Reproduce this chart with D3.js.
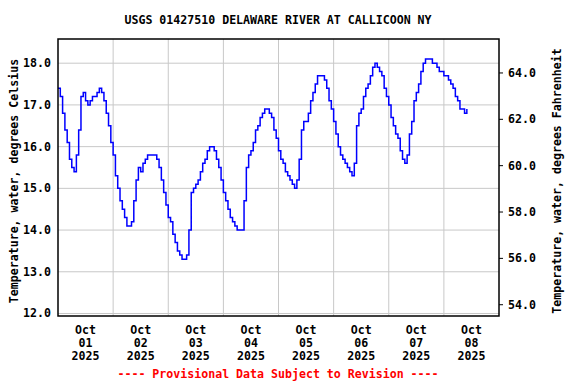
<!DOCTYPE html>
<html>
<head>
<meta charset="utf-8">
<script src="https://cdn.jsdelivr.net/npm/d3@7"></script>
<style>
  body { margin: 0; background: #fff; }
  text { font-family: "DejaVu Sans Mono", monospace; font-weight: bold; font-size: 11.6px; fill: #000; }
</style>
</head>
<body>
<svg width="576" height="384"></svg>
<script>
// hourly water temperature (deg C), starting 2025-10-01 00:00
var startTime = '2025-10-01T00:00:00';
var endTime = '2025-10-09T00:00:00';
var tempC = [
    17.4, 17.2, 16.8, 16.4, 16.1, 15.7, 15.5, 15.4, 15.8, 16.4, 17.2, 17.3,
    17.1, 17.0, 17.1, 17.2, 17.2, 17.3, 17.4, 17.3, 17.1, 16.8, 16.5, 16.1,
    15.8, 15.3, 15.0, 14.7, 14.5, 14.3, 14.1, 14.1, 14.2, 14.7, 15.2, 15.5,
    15.4, 15.6, 15.7, 15.8, 15.8, 15.8, 15.8, 15.7, 15.5, 15.2, 14.9, 14.6,
    14.3, 14.2, 13.9, 13.7, 13.5, 13.4, 13.3, 13.3, 13.4, 14.0, 14.9, 15.0,
    15.1, 15.2, 15.4, 15.6, 15.7, 15.9, 16.0, 16.0, 15.9, 15.7, 15.5, 15.2,
    14.9, 14.7, 14.5, 14.3, 14.2, 14.1, 14.0, 14.0, 14.0, 14.7, 15.5, 15.8,
    15.9, 16.1, 16.4, 16.5, 16.7, 16.8, 16.9, 16.9, 16.8, 16.7, 16.4, 16.2,
    15.9, 15.7, 15.6, 15.4, 15.3, 15.2, 15.1, 15.0, 15.2, 15.7, 16.4, 16.6,
    16.6, 16.8, 17.1, 17.3, 17.5, 17.7, 17.7, 17.7, 17.6, 17.4, 17.1, 16.9,
    16.6, 16.3, 16.0, 15.8, 15.7, 15.6, 15.5, 15.4, 15.3, 15.6, 16.5, 16.8,
    16.9, 17.2, 17.4, 17.5, 17.7, 17.9, 18.0, 17.9, 17.8, 17.7, 17.4, 17.2,
    17.0, 16.7, 16.5, 16.3, 16.2, 15.9, 15.7, 15.6, 15.8, 16.3, 16.6, 17.1,
    17.3, 17.5, 17.8, 18.0, 18.1, 18.1, 18.1, 18.0, 18.0, 17.9, 17.8, 17.8,
    17.7, 17.7, 17.6, 17.5, 17.4, 17.2, 17.1, 16.9, 16.9, 16.8, 16.9
];
var celsiusTicks = [12, 13, 14, 15, 16, 17, 18];
var fahrenheitTicks = [54, 56, 58, 60, 62, 64];
var dayLabels = ['01', '02', '03', '04', '05', '06', '07', '08'];

var svg = d3.select('svg');
var plot = { l: 58, r: 499, t: 39, b: 316 };

var t0 = new Date(startTime);
var data = tempC.map(function (v, i) {
    return { time: d3.timeHour.offset(t0, i), temp: v };
});

var xScale = d3.scaleTime()
    .domain([t0, new Date(endTime)])
    .range([plot.l, plot.r]);

var yScale = d3.scaleLinear()
    .domain([11.94, 18.58])
    .range([plot.b, plot.t]);

// Fahrenheit axis shares the same pixel mapping
var fScale = d3.scaleLinear()
    .domain(yScale.domain().map(function (c) { return c * 1.8 + 32; }))
    .range([plot.b, plot.t]);

// grid lines
var midnights = d3.timeDay.range(d3.timeDay.offset(t0, 1), new Date(endTime));
svg.append('g').selectAll('line.vgrid')
    .data(midnights)
    .enter().append('line')
    .attr('x1', d => xScale(d)).attr('x2', d => xScale(d))
    .attr('y1', plot.t).attr('y2', plot.b)
    .attr('stroke', '#c8c8c8').attr('stroke-width', 1);

svg.append('g').selectAll('line.hgrid')
    .data(celsiusTicks)
    .enter().append('line')
    .attr('x1', plot.l).attr('x2', plot.r)
    .attr('y1', d => yScale(d)).attr('y2', d => yScale(d))
    .attr('stroke', '#c8c8c8').attr('stroke-width', 1);

// data line
var line = d3.line()
    .x(d => xScale(d.time))
    .y(d => yScale(d.temp))
    .curve(d3.curveStepAfter);

svg.append('path')
    .datum(data)
    .attr('d', line)
    .attr('fill', 'none')
    .attr('stroke', '#0000ff')
    .attr('stroke-width', 1.5);

// frame
svg.append('rect')
    .attr('x', plot.l).attr('y', plot.t)
    .attr('width', plot.r - plot.l).attr('height', plot.b - plot.t)
    .attr('fill', 'none').attr('stroke', '#000').attr('stroke-width', 1.5);

// left axis labels
svg.append('g').selectAll('text')
    .data(celsiusTicks)
    .enter().append('text')
    .attr('x', 51).attr('y', d => yScale(d) + 4)
    .attr('text-anchor', 'end')
    .text(d => d3.format('.1f')(d));

// right axis with ticks
var rightAxis = svg.append('g')
    .attr('transform', `translate(${plot.r},0)`)
    .call(d3.axisRight(fScale).tickValues(fahrenheitTicks).tickSize(4).tickFormat(d3.format('.1f')));
rightAxis.select('.domain').remove();
rightAxis.selectAll('line').attr('stroke', '#000');
rightAxis.selectAll('text')
    .attr('x', 9).attr('dy', null).attr('y', 4)
    .style('font-family', '"DejaVu Sans Mono", monospace')
    .style('font-size', '11.6px').style('font-weight', 'bold');

// day labels at noon
var dayG = svg.append('g').selectAll('g')
    .data(dayLabels)
    .enter().append('g')
    .attr('transform', function (d, i) {
        var noon = d3.timeHour.offset(d3.timeDay.offset(t0, i), 12);
        return `translate(${xScale(noon)},0)`;
    });
dayG.append('text').attr('y', 334).attr('text-anchor', 'middle').text('Oct');
dayG.append('text').attr('y', 347).attr('text-anchor', 'middle').text(d => d);
dayG.append('text').attr('y', 360).attr('text-anchor', 'middle').text('2025');

// titles
svg.append('text')
    .attr('x', 278).attr('y', 24)
    .attr('text-anchor', 'middle')
    .text('USGS 01427510 DELAWARE RIVER AT CALLICOON NY');

svg.append('text')
    .attr('transform', 'translate(18,181) rotate(-90)')
    .attr('text-anchor', 'middle')
    .text('Temperature, water, degrees Celsius');

svg.append('text')
    .attr('transform', 'translate(561,181) rotate(-90)')
    .attr('text-anchor', 'middle')
    .text('Temperature, water, degrees Fahrenheit');

svg.append('text')
    .attr('x', 278).attr('y', 378)
    .attr('text-anchor', 'middle')
    .style('fill', '#ff0000')
    .text('---- Provisional Data Subject to Revision ----');
</script>
</body>
</html>
